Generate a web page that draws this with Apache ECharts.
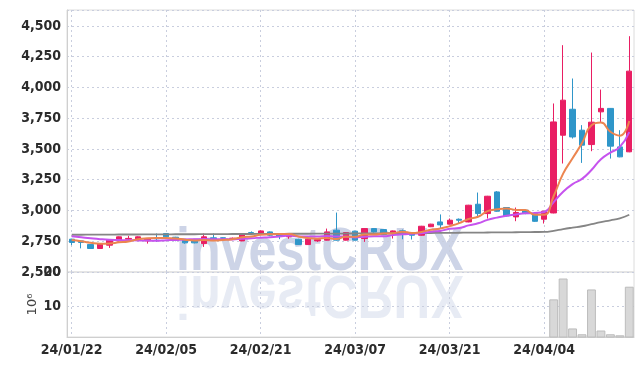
<!DOCTYPE html>
<html>
<head>
<meta charset="utf-8">
<script src="https://cdn.jsdelivr.net/npm/echarts@6/dist/echarts.min.js"></script>
<style>
html, body { margin: 0; padding: 0; background: #fff; }
#chart { width: 642px; height: 366px; }
</style>
</head>
<body>
<div id="chart"></div>
<script>
var dates = ['24/01/22','24/01/23','24/01/24','24/01/25','24/01/26','24/01/29','24/01/30','24/01/31','24/02/01','24/02/02',
  '24/02/05','24/02/06','24/02/07','24/02/08','24/02/13','24/02/14','24/02/15','24/02/16','24/02/19','24/02/20',
  '24/02/21','24/02/22','24/02/23','24/02/26','24/02/27','24/02/28','24/02/29','24/03/04','24/03/05','24/03/06',
  '24/03/07','24/03/08','24/03/11','24/03/12','24/03/13','24/03/14','24/03/15','24/03/18','24/03/19','24/03/20',
  '24/03/21','24/03/22','24/03/25','24/03/26','24/03/27','24/03/28','24/03/29','24/04/01','24/04/02','24/04/03',
  '24/04/04','24/04/05','24/04/08','24/04/09','24/04/11','24/04/12','24/04/15','24/04/16','24/04/17','24/04/18'];

var open = [2767,2753,2724,2691,2718,2753,2767,2767,2753,2773,
  2813,2783,2759,2764,2731,2778,2778,2772,2753,2820,
  2807,2826,2805,2786,2767,2723,2753,2759,2840,2759,
  2832,2772,2853,2845,2813,2835,2818,2799,2868,2907,
  2889,2929,2907,3051,2975,3151,3024,2948,3002,2975,
  2929,2980,3612,3823,3653,3536,3802,3830,3517,3477];
var close = [2740,2740,2691,2731,2759,2786,2773,2786,2767,2770,
  2786,2756,2737,2737,2786,2764,2775,2775,2813,2818,
  2834,2799,2791,2807,2723,2767,2763,2826,2759,2821,
  2759,2853,2826,2805,2834,2820,2799,2872,2889,2883,
  2921,2921,3043,2975,3116,2994,2956,2984,2975,2912,
  2994,3720,3897,3598,3531,3718,3830,3523,3436,4133];
var low = [2718,2692,2688,2688,2696,2750,2745,2760,2731,2745,
  2780,2750,2730,2733,2704,2759,2770,2768,2750,2810,
  2803,2791,2767,2770,2720,2720,2745,2756,2756,2756,
  2756,2745,2820,2800,2772,2766,2764,2796,2865,2853,
  2886,2894,2904,2954,2935,2990,2952,2913,2970,2908,
  2894,2977,3382,3585,3387,3482,3720,3422,3433,3474];
var high = [2770,2756,2727,2735,2762,2789,2794,2790,2770,2813,
  2816,2786,2762,2767,2813,2813,2781,2780,2816,2830,
  2838,2830,2808,2810,2770,2770,2768,2853,2983,2824,
  2836,2856,2856,2848,2837,2845,2821,2875,2892,2968,
  2935,2935,3046,3146,3119,3158,3027,3024,3005,2978,
  2997,3870,4344,4073,3694,4284,3983,3833,3653,4417];

var ma5 = [2760,2750,2738,2730,2732,2741,2748,2767,2774,2776,
  2776,2773,2763,2757,2760,2756,2760,2767,2783,2789,
  2802,2806,2809,2808,2789,2776,2770,2777,2768,2787,
  2786,2804,2804,2813,2815,2828,2817,2826,2843,2853,
  2873,2897,2931,2949,2995,3010,3017,3005,3005,2965,
  2965,3118,3300,3425,3548,3693,3715,3640,3608,3728];
var ma10 = [2790,2782,2774,2767,2762,2760,2758,2757,2756,2754,
  2759,2761,2765,2766,2768,2766,2767,2765,2770,2775,
  2779,2783,2788,2796,2789,2789,2788,2793,2788,2788,
  2781,2787,2791,2791,2801,2807,2811,2815,2828,2834,
  2851,2857,2879,2896,2924,2942,2957,2968,2977,2980,
  2988,3068,3153,3215,3257,3329,3417,3470,3517,3638];
var ma60 = [2803,2803,2804,2804,2804,2805,2805,2805,2806,2806,
  2806,2807,2807,2807,2808,2808,2808,2809,2809,2809,
  2810,2810,2810,2811,2811,2811,2812,2812,2812,2813,
  2813,2814,2814,2815,2815,2816,2816,2817,2817,2818,
  2818,2819,2820,2820,2821,2822,2822,2823,2824,2825,
  2826,2835,2849,2861,2872,2889,2906,2920,2936,2965];

// volume in millions of shares
var volume = [0.32,0.25,0.41,0.28,0.36,0.22,0.19,0.27,0.24,0.3,
  0.35,0.21,0.18,0.2,0.33,0.26,0.17,0.15,0.29,0.23,
  0.31,0.22,0.19,0.2,0.34,0.28,0.16,0.38,0.62,0.3,
  0.27,0.35,0.24,0.22,0.2,0.21,0.18,0.36,0.25,0.33,
  0.29,0.2,0.55,0.48,0.6,0.52,0.3,0.26,0.22,0.28,
  0.27,12.0,18.1,3.5,1.8,14.9,2.9,1.8,1.5,15.7];

var ohlc = dates.map(function (d, i) { return [open[i], close[i], low[i], high[i]]; });

var labelFont = 'DejaVu Sans Condensed, sans-serif';
var gridLine = { show: true, lineStyle: { type: [2, 3], color: '#c9cede', width: 1 } };
var wmFont = 'bold 62px Liberation Sans, Arial, sans-serif';

var chart = echarts.init(document.getElementById('chart'));
chart.setOption({
    animation: false,
    backgroundColor: '#fff',
    grid: [
        { left: 67, right: 8, top: 10, height: 262, show: true, borderColor: '#dcdcdc', borderWidth: 1 },
        { left: 67, right: 8, top: 272, height: 65, show: true, borderColor: '#dcdcdc', borderWidth: 1 }
    ],
    graphic: [
        {
            type: 'text', x: 176, y: 284, scaleX: 0.81, z: -1, silent: true,
            style: { text: 'investCRUX', x: 0, y: 0, verticalAlign: 'bottom', fill: 'rgba(176,188,218,0.64)', font: wmFont }
        },
        {
            type: 'text', x: 176, y: 262, scaleX: 0.81, scaleY: -1, z: -1, silent: true,
            style: { text: 'investCRUX', x: 0, y: 0, verticalAlign: 'bottom', fill: 'rgba(176,188,218,0.3)', font: wmFont }
        }
    ],
    xAxis: [
        {
            type: 'category', gridIndex: 0, data: dates, boundaryGap: true,
            axisLine: { show: false },
            axisTick: { show: false, alignWithLabel: true, interval: 9 },
            axisLabel: { show: false, interval: 9 },
            splitLine: { show: true, interval: 9, alignWithLabel: true, lineStyle: gridLine.lineStyle }
        },
        {
            type: 'category', gridIndex: 1, data: dates, boundaryGap: true,
            axisLine: { show: true, lineStyle: { color: '#cfcfcf' } },
            axisTick: { show: false, alignWithLabel: true, interval: 9 },
            axisLabel: { show: true, interval: 9, margin: 6, color: '#2b2b2b', fontSize: 14, fontWeight: 'bold', fontFamily: labelFont },
            splitLine: { show: true, interval: 9, alignWithLabel: true, lineStyle: gridLine.lineStyle }
        }
    ],
    yAxis: [
        {
            type: 'value', gridIndex: 0, min: 2500, max: 4630, interval: 250,
            axisLine: { show: true, lineStyle: { color: '#cfcfcf' } },
            axisTick: { show: false },
            axisLabel: { showMaxLabel: false, color: '#2b2b2b', fontSize: 14, fontWeight: 'bold', fontFamily: labelFont, margin: 6,
                formatter: function (v) { return v.toLocaleString('en-US'); } },
            splitLine: gridLine
        },
        {
            type: 'value', gridIndex: 1, min: 1, max: 20, splitNumber: 2,
            name: '10\u2076', nameLocation: 'middle', nameRotate: 90, nameGap: 28, nameMoveOverlap: false,
            nameTextStyle: { color: '#444', fontSize: 13, fontFamily: 'DejaVu Sans, sans-serif' },
            axisLine: { show: true, lineStyle: { color: '#cfcfcf' } },
            axisTick: { show: false },
            axisLabel: { showMinLabel: false, color: '#2b2b2b', fontSize: 14, fontWeight: 'bold', fontFamily: labelFont, margin: 6 },
            splitLine: gridLine
        }
    ],
    series: [
        {
            name: 'price', type: 'candlestick', xAxisIndex: 0, yAxisIndex: 0, data: ohlc, barWidth: '62%',
            itemStyle: { color: '#e91e63', color0: '#2f96c9', borderColor: '#e91e63', borderColor0: '#2f96c9', borderWidth: 1 }
        },
        {
            name: 'MA60', type: 'line', xAxisIndex: 0, yAxisIndex: 0, data: ma60, symbol: 'none', smooth: true,
            lineStyle: { color: '#858585', width: 1.8 }
        },
        {
            name: 'MA10', type: 'line', xAxisIndex: 0, yAxisIndex: 0, data: ma10, symbol: 'none', smooth: true,
            lineStyle: { color: '#c653ee', width: 2 }
        },
        {
            name: 'MA5', type: 'line', xAxisIndex: 0, yAxisIndex: 0, data: ma5, symbol: 'none', smooth: true,
            lineStyle: { color: '#ec8550', width: 2 }
        },
        {
            name: 'volume', type: 'bar', xAxisIndex: 1, yAxisIndex: 1, data: volume, barCategoryGap: '6%',
            itemStyle: { color: '#d8d8d8', borderColor: '#bcbcbc', borderWidth: 1 }
        }
    ]
});
</script>
</body>
</html>
